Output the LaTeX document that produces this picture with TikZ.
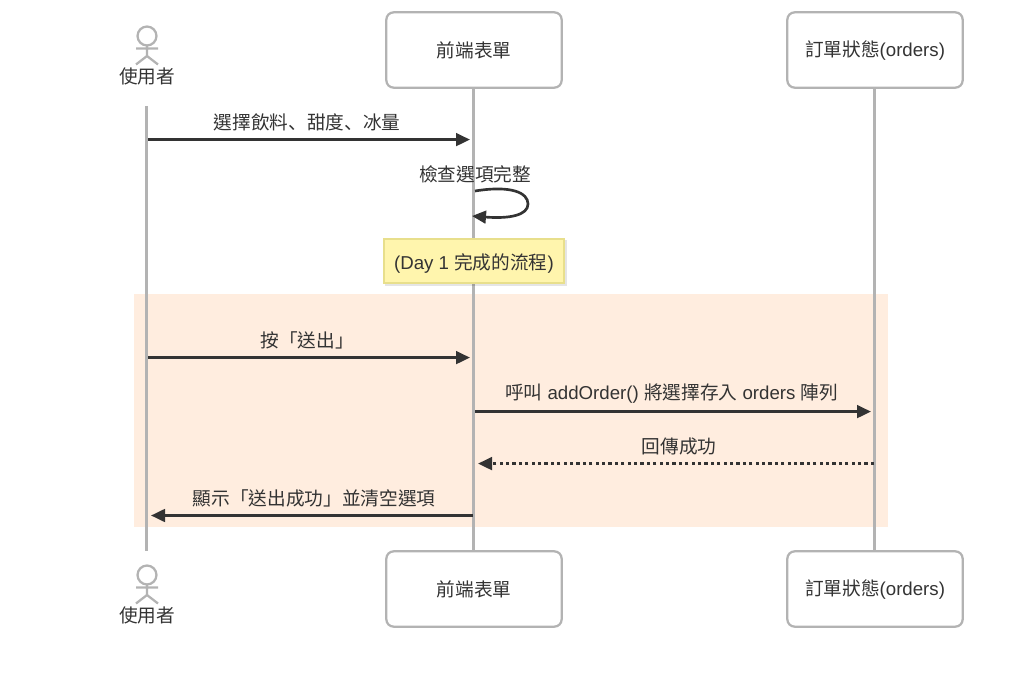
\documentclass[tikz,border=0pt]{standalone}
\usepackage{fontspec}
\setmainfont{Liberation Sans}
\newfontfamily\cjk{Noto Sans CJK TC}
\newfontfamily\cjkp{Noto Sans CJK JP}
\usetikzlibrary{arrows.meta,shadows}
\definecolor{ink}{HTML}{333333}
\definecolor{lifegray}{HTML}{B3B3B3}
\definecolor{bandfill}{HTML}{FFEDDF}
\definecolor{notefill}{HTML}{FFF5AD}
\definecolor{noteline}{HTML}{E8DF8C}
\tikzset{
  x=0.75pt,y=-0.75pt,
  party/.style={draw=lifegray,line width=1.7pt,rounded corners=5.5pt,fill=white,minimum width=131.5pt,minimum height=56.5pt,inner sep=0pt,text=ink,font=\fontsize{14}{16}\selectfont},
  actorpart/.style={draw=lifegray,line width=1.7pt},
  lifeline/.style={draw=lifegray,line width=2pt},
  msg/.style={draw=ink,line width=2pt,-{Triangle[length=10.5pt,width=9.5pt]}},
  ret/.style={msg,dash pattern=on 2.4pt off 2.4pt},
  lab/.style={text=ink,inner sep=0pt,font=\fontsize{14}{16}\selectfont},
  notebox/.style={draw=noteline,line width=1.5pt,fill=notefill,minimum width=135.5pt,minimum height=33.5pt,inner sep=0pt,text=ink,font=\fontsize{14}{16}\selectfont},
}
\newcommand{\lowered}[2]{\raisebox{-#1}[6pt][6pt]{#2}}
\begin{document}
\begin{tikzpicture}
\useasboundingbox (0,0) rectangle (1024,677);
\fill[bandfill] (134,294) rectangle (888,527);
% participants
\node[party] (fronttop) at (474,50) {\cjk 前端表單};
\node[party] (ordertop) at (875,50) {\lowered{4.7pt}{{\cjk 訂單狀態}(orders)}};
\node[party] (frontbot) at (474,589) {\cjk 前端表單};
\node[party] (orderbot) at (875,589) {\lowered{4.7pt}{{\cjk 訂單狀態}(orders)}};
% user actor
\node[lab] (usertop) at (147,76) {\cjk 使用者};
\node[lab] (userbot) at (147,615) {\cjk 使用者};
\coordinate (utl) at (146.6,106);
\coordinate (ubl) at (146.6,551);
\foreach \d/\n in {0/a,539/b}{
  \begin{scope}[yshift=-0.75pt*\d]
    \draw[actorpart,fill=white] (147,36) circle (7.1pt);
    \draw[actorpart] (147,45.5) -- (147,56) (136,48.5) -- (158,48.5) (136,64.5) -- (147,56) -- (158,64.5);
  \end{scope}
}
% lifelines
\draw[lifeline] (utl) -- (ubl);
\draw[lifeline] ([xshift=-0.3pt]fronttop.south) -- ([xshift=-0.3pt]frontbot.north);
\draw[lifeline] ([xshift=-0.3pt]ordertop.south) -- ([xshift=-0.3pt]orderbot.north);
% note
\fill[black,opacity=.1] (385,240) rectangle (567,286);
\node[notebox] (note) at (474,261) {\lowered{6.2pt}{(Day 1 {\cjk 完成的流程})}};
% message anchors
\coordinate (u1) at (148,139.6); \coordinate (f1) at (470,139.6);
\coordinate (u2) at (148,357.6); \coordinate (f2) at (470,357.6);
\coordinate (f3) at (475,411.6); \coordinate (o3) at (871,411.6);
\coordinate (o4) at (874,463.6); \coordinate (f4) at (478,463.6);
\coordinate (f5) at (472.5,515.5); \coordinate (u5) at (151,515.5);
\coordinate (s1) at (475,191); \coordinate (s2) at (472,216);
% messages
\draw[msg] (u1) -- (f1);
\node[lab] (m1) at (307,122.5) {{\cjk 選擇飲料}{\cjkp 、}{\cjk 甜度}{\cjkp 、}{\cjk 冰量}};
\draw[msg] (s1) .. controls (512,185) and (528,193) .. (528,204) .. controls (528,215) and (510,219) .. (s2);
\node[lab] (m2) at (475,174) {\cjk 檢查選項完整};
\draw[msg] (u2) -- (f2);
\node[lab] (m3) at (307,340.5) {{\cjk 按}{\cjkp 「}{\cjk 送出}{\cjkp 」}};
\draw[msg] (f3) -- (o3);
\node[lab] (m4) at (671.5,393.5) {{\cjk 呼叫} addOrder() {\cjk 將選擇存入} orders {\cjk 陣列}};
\draw[ret] (o4) -- (f4);
\node[lab] (m5) at (679,446.5) {\cjk 回傳成功};
\draw[msg] (f5) -- (u5);
\node[lab] (m6) at (314,498) {{\cjk 顯示}{\cjkp 「}{\cjk 送出成功}{\cjkp 」}{\cjk 並清空選項}};
\end{tikzpicture}
\end{document}
